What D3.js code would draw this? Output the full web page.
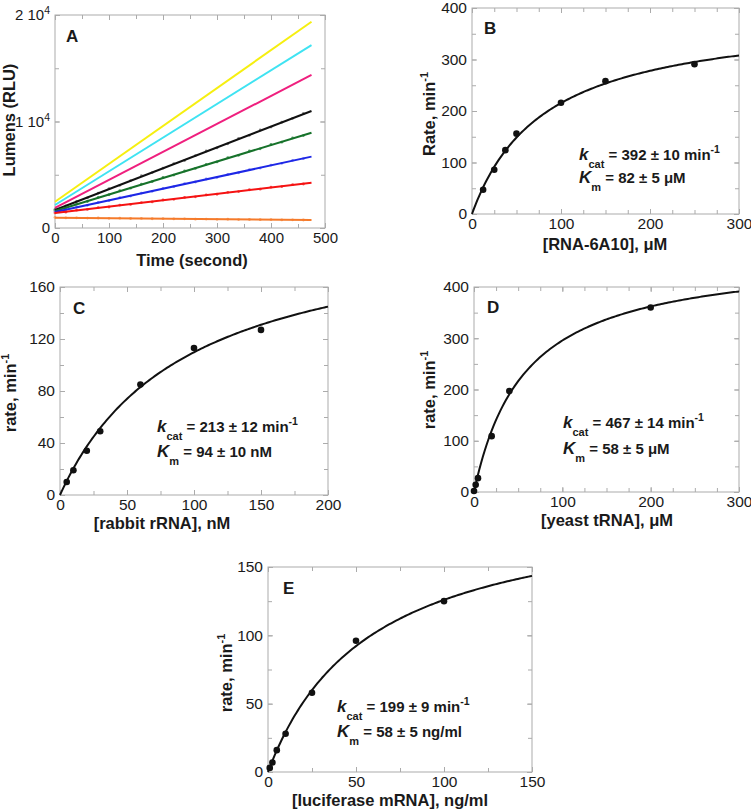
<!DOCTYPE html>
<html><head><meta charset="utf-8">
<script src="https://cdn.jsdelivr.net/npm/d3@7"></script>
<style>
body{margin:0;background:#fff;}
text{font-family:"Liberation Sans",Arial,Helvetica,sans-serif;fill:#1a1a1a;}
</style></head>
<body>
<svg id="c" width="751" height="811"></svg>
<script>
// ---------- DATA ----------
// Panel A: time course lines (fit start / end values, RLU) and sampled points
const timeA = [0, 20, 40, 60, 80, 100, 120, 140, 160, 180, 200, 220, 240, 260, 280, 300, 320, 340, 360, 380, 400, 420, 440, 460];
const lineNamesA = ["yellow", "cyan", "magenta", "black", "green", "blue", "red", "orange"];
const lineStartA = [2470, 2160, 1880, 1690, 1600, 1500, 1400, 970];
const lineEndA   = [19370, 17180, 14370, 10990, 8950, 6700, 4250, 750];
const lineEndTimeA = 475;
const ptsBlackA  = [1750, 2080, 2500, 2820, 3280, 3700, 4010, 4450, 4920, 5200, 5620, 6050, 6340, 6800, 7230, 7520, 7900, 8420, 8700, 9200, 9480, 9930, 10300, 10750];
const ptsGreenA  = [1640, 1880, 2260, 2490, 2880, 3120, 3500, 3740, 4120, 4350, 4740, 4970, 5350, 5590, 5980, 6200, 6600, 6820, 7230, 7430, 7840, 8060, 8460, 8680];
const ptsBlueA   = [1530, 1700, 1970, 2130, 2400, 2570, 2850, 3000, 3280, 3440, 3720, 3880, 4170, 4320, 4600, 4750, 5040, 5190, 5480, 5630, 5910, 6070, 6350, 6510];
const ptsRedA    = [1420, 1490, 1670, 1740, 1910, 1970, 2150, 2210, 2390, 2450, 2630, 2690, 2870, 2930, 3110, 3170, 3350, 3420, 3590, 3650, 3830, 3890, 4070, 4130];
const ptsOrangeA = [990, 950, 960, 930, 940, 910, 920, 890, 900, 870, 880, 850, 860, 830, 840, 810, 820, 790, 800, 780, 790, 760, 770, 750];
const xTicksA = [0, 100, 200, 300, 400, 500];
const yTicksA = [0, 10000, 20000];
const yTickLabelsA = ["0", "1 10|4", "2 10|4"];

// Panel B
const concB = [12.5, 25, 37.5, 50, 100, 150, 250];
const rateB = [47, 86, 124, 156, 216, 258, 291];
const kcatB = 392, kmB = 82;
// Panel C
const concC = [5, 10, 20, 30, 60, 100, 150];
const rateC = [10, 19, 34, 49, 85, 113, 127];
const kcatC = 213, kmC = 94;
// Panel D
const concD = [0, 1.9, 4.5, 20, 40, 200];
const rateD = [2, 14, 27, 109, 197, 360];
const kcatD = 467, kmD = 58;
// Panel E
const concE = [1, 2.5, 5, 10, 25, 50, 100];
const rateE = [3, 7, 16, 28, 58, 96, 125];
const kcatE = 199, kmE = 58;

// ---------- STYLES ----------
const colorsA = {yellow:"#f6ef10", cyan:"#3fe3f2", magenta:"#ef1f7e", black:"#111111", green:"#16722a", blue:"#1d27e6", red:"#f51212", orange:"#f57a2a"};
const ptColorsA = {black:"#777", green:"#3e8f52", blue:"#7b7ff2", red:"#f03a3a", orange:"#f59a62"};
const frameColor = "#ababab";

const svg = d3.select("#c");

function frame(g, x, y, majX, minX, majY, minY, xFmt, yFmt, tickFont) {
  const [x0, x1] = x.range(), [y0, y1] = y.range();
  const T = 5, t = 4;
  const addAxis = (axis, tr) => {
    const a = g.append("g").attr("transform", tr).call(axis);
    a.select(".domain").remove();
    a.selectAll("line").attr("stroke", frameColor).attr("stroke-width", 1);
    return a;
  };
  addAxis(d3.axisBottom(x).tickValues(minX).tickSize(-t).tickFormat(""), `translate(0,${y0})`);
  addAxis(d3.axisTop(x).tickValues(minX).tickSize(-t).tickFormat(""), `translate(0,${y1})`);
  addAxis(d3.axisLeft(y).tickValues(minY).tickSize(-t).tickFormat(""), `translate(${x0},0)`);
  addAxis(d3.axisRight(y).tickValues(minY).tickSize(-t).tickFormat(""), `translate(${x1},0)`);
  addAxis(d3.axisTop(x).tickValues(majX).tickSize(-T).tickFormat(""), `translate(0,${y1})`);
  addAxis(d3.axisRight(y).tickValues(majY).tickSize(-T).tickFormat(""), `translate(${x1},0)`);
  const bx = addAxis(d3.axisBottom(x).tickValues(majX).tickSize(-T).tickPadding(4).tickFormat(xFmt), `translate(0,${y0})`);
  const ly = addAxis(d3.axisLeft(y).tickValues(majY).tickSize(-T).tickPadding(5).tickFormat(yFmt), `translate(${x0},0)`);
  bx.selectAll("text").attr("font-size", tickFont).attr("fill", "#1a1a1a").attr("font-family", "Liberation Sans, Arial, sans-serif");
  ly.selectAll("text").attr("font-size", tickFont).attr("fill", "#1a1a1a").attr("font-family", "Liberation Sans, Arial, sans-serif");
  g.append("rect").attr("x", x0).attr("y", y1).attr("width", x1 - x0).attr("height", y0 - y1)
    .attr("fill", "none").attr("stroke", frameColor).attr("stroke-width", 1);
  return {bx, ly};
}

function range(a, b, s) { const r = []; for (let v = a; v <= b + 1e-9; v += s) r.push(v); return r; }

function axisTitles(g, xt, xTitle, yt, yTitleMain, ySup) {
  g.append("text").attr("x", xt[0]).attr("y", xt[1]).attr("text-anchor", "middle")
    .attr("font-size", 16.5).attr("font-weight", "bold").text(xTitle);
  const yt_ = g.append("text").attr("transform", `translate(${yt[0]},${yt[1]}) rotate(-90)`)
    .attr("text-anchor", "middle").attr("font-size", 16.5).attr("font-weight", "bold");
  yt_.append("tspan").text(yTitleMain);
  if (ySup) yt_.append("tspan").attr("font-size", 11).attr("dy", -7).text(ySup);
}

function letter(g, x, y, s) {
  g.append("text").attr("x", x).attr("y", y).attr("font-size", 17).attr("font-weight", "bold").text(s);
}

function annot(g, x, y1, y2, kcat, km, unit) {
  const t1 = g.append("text").attr("x", x).attr("y", y1).attr("font-size", 15).attr("font-weight", "bold");
  t1.append("tspan").attr("font-style", "italic").attr("font-size", 17).text("k");
  t1.append("tspan").attr("font-size", 11).attr("dy", 8).text("cat");
  t1.append("tspan").attr("dy", -8).text(` = ${kcat} min`);
  t1.append("tspan").attr("font-size", 10.5).attr("dy", -7).text("-1");
  const t2 = g.append("text").attr("x", x).attr("y", y2).attr("font-size", 15).attr("font-weight", "bold");
  t2.append("tspan").attr("font-style", "italic").attr("font-size", 17).text("K");
  t2.append("tspan").attr("font-size", 11).attr("dy", 8).text("m");
  t2.append("tspan").attr("dy", -8).text(` = ${km} ${unit}`);
}

// Michaelis-Menten fit curve drawn from the displayed kcat / Km values
function mmPanel(g, x, y, kcat, km, conc, rate) {
  const xmax = x.domain()[1];
  const n = 150;
  const curve = d3.range(n + 1).map(i => { const s = xmax * i / n; return [s, kcat * s / (km + s)]; });
  g.append("path").attr("d", d3.line().x(d => x(d[0])).y(d => y(d[1]))(curve))
    .attr("fill", "none").attr("stroke", "#111").attr("stroke-width", 2);
  g.selectAll(null).data(conc.map((c, i) => [c, rate[i]])).enter().append("circle")
    .attr("cx", d => x(d[0])).attr("cy", d => y(d[1])).attr("r", 3.3).attr("fill", "#111");
}

// ---------- PANEL A ----------
{
  const g = svg.append("g");
  const x = d3.scaleLinear().domain([0, 500]).range([55, 325]);
  const y = d3.scaleLinear().domain([0, 20000]).range([228, 15]);
  const {ly} = frame(g, x, y, xTicksA, range(0, 500, 50), yTicksA, range(0, 20000, 5000), d3.format("d"), (d) => "", 15);
  ly.selectAll(".tick text").each(function(d, i) {
    const parts = yTickLabelsA[i].split("|");
    const t = d3.select(this).text(null);
    t.append("tspan").text(parts[0]);
    if (parts[1]) t.append("tspan").attr("font-size", 10.5).attr("dy", -6).text(parts[1]);
  });
  const ptArrays = {black: ptsBlackA, green: ptsGreenA, blue: ptsBlueA, red: ptsRedA, orange: ptsOrangeA};
  Object.keys(ptArrays).forEach(k => {
    g.selectAll(null).data(ptArrays[k].map((v, i) => [timeA[i], v])).enter().append("circle")
      .attr("cx", d => x(d[0])).attr("cy", d => y(d[1])).attr("r", 1.4)
      .attr("fill", ptColorsA[k]).attr("opacity", 0.85);
  });
  lineNamesA.forEach((name, i) => {
    g.append("line").attr("x1", x(0)).attr("y1", y(lineStartA[i]))
      .attr("x2", x(lineEndTimeA)).attr("y2", y(lineEndA[i]))
      .attr("stroke", colorsA[name]).attr("stroke-width", 2);
  });
  letter(g, 66, 42, "A");
  axisTitles(g, [192, 266], "Time (second)", [15, 120], "Lumens (RLU)", null);
}

// ---------- PANEL B ----------
{
  const g = svg.append("g");
  const x = d3.scaleLinear().domain([0, 300]).range([472, 739]);
  const y = d3.scaleLinear().domain([0, 400]).range([214, 8]);
  frame(g, x, y, [0, 100, 200, 300], range(0, 300, 25), [0, 100, 200, 300, 400], range(0, 400, 50), d3.format("d"), d3.format("d"), 15.5);
  mmPanel(g, x, y, kcatB, kmB, concB, rateB);
  letter(g, 484, 34, "B");
  annot(g, 579, 160, 183, "392 ± 10", "82 ± 5", "μM");
  axisTitles(g, [605, 250], "[RNA-6A10], μM", [435, 114], "Rate, min", "-1");
}

// ---------- PANEL C ----------
{
  const g = svg.append("g");
  const x = d3.scaleLinear().domain([0, 200]).range([60, 328]);
  const y = d3.scaleLinear().domain([0, 160]).range([495, 287]);
  frame(g, x, y, [0, 50, 100, 150, 200], range(0, 200, 25), [0, 40, 80, 120, 160], range(0, 160, 20), d3.format("d"), d3.format("d"), 15.5);
  mmPanel(g, x, y, kcatC, kmC, concC, rateC);
  letter(g, 73, 314, "C");
  annot(g, 157, 432, 457, "213 ± 12", "94 ± 10", "nM");
  axisTitles(g, [162, 529], "[rabbit rRNA], nM", [16, 393], "rate, min", "-1");
}

// ---------- PANEL D ----------
{
  const g = svg.append("g");
  const x = d3.scaleLinear().domain([0, 300]).range([474, 739]);
  const y = d3.scaleLinear().domain([0, 400]).range([492, 287]);
  frame(g, x, y, [0, 100, 200, 300], range(0, 300, 25), [0, 100, 200, 300, 400], range(0, 400, 50), d3.format("d"), d3.format("d"), 15.5);
  mmPanel(g, x, y, kcatD, kmD, concD, rateD);
  letter(g, 487, 313, "D");
  annot(g, 563, 428, 454, "467 ± 14", "58 ± 5", "μM");
  axisTitles(g, [607, 526], "[yeast tRNA], μM", [435, 390], "rate, min", "-1");
}

// ---------- PANEL E ----------
{
  const g = svg.append("g");
  const x = d3.scaleLinear().domain([0, 150]).range([268, 532]);
  const y = d3.scaleLinear().domain([0, 150]).range([772, 567]);
  frame(g, x, y, [0, 50, 100, 150], range(0, 150, 25), [0, 50, 100, 150], range(0, 150, 25), d3.format("d"), d3.format("d"), 15.5);
  mmPanel(g, x, y, kcatE, kmE, concE, rateE);
  letter(g, 283, 594, "E");
  annot(g, 337, 712, 737, "199 ± 9", "58 ± 5", "ng/ml");
  axisTitles(g, [390, 806], "[luciferase mRNA], ng/ml", [232, 673], "rate, min", "-1");
}
</script>
</body></html>
